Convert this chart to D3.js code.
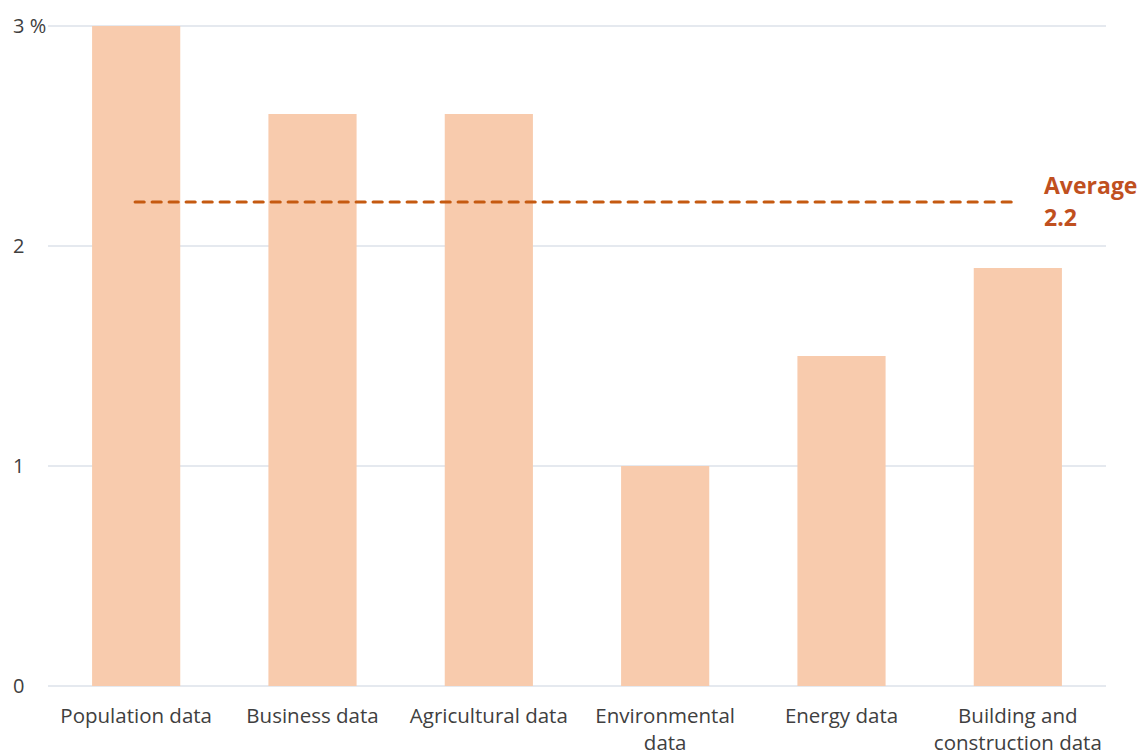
<!DOCTYPE html>
<html><head><meta charset="utf-8">
<script src="https://cdn.jsdelivr.net/npm/d3@7"></script>
<style>body{margin:0;background:#fff}svg{display:block}</style>
</head><body>
<svg id="c" width="1142" height="753"></svg>
<script>
const categories = ["Population data","Business data","Agricultural data","Environmental data","Energy data","Building and construction data"];
const labelLines = [["Population data"],["Business data"],["Agricultural data"],["Environmental","data"],["Energy data"],["Building and","construction data"]];
const values = [3.0, 2.6, 2.6, 1.0, 1.5, 1.9];
const averageValue = 2.2;
const yTicks = [0, 1, 2, 3];
const yTickLabels = ["0", "1", "2", "3 %"];

const svg = d3.select("#c");
const m = {l:48, r:36, t:26, b:67};
const W = 1142, H = 753;
const x = d3.scaleBand().domain(categories).range([m.l, W - m.r]).paddingInner(0.5).paddingOuter(0.25);
const y = d3.scaleLinear().domain([0, 3]).range([H - m.b, m.t]);

// gridlines
svg.append("g").selectAll("line").data(yTicks).join("line")
  .attr("x1", m.l).attr("x2", W - m.r)
  .attr("y1", d => y(d)).attr("y2", d => y(d))
  .attr("stroke", "#dde2ea").attr("stroke-width", 1.3);

// y labels
svg.append("g").selectAll("text").data(yTicks).join("text")
  .attr("x", 13).attr("y", d => y(d) + 7)
  .attr("font-family", "Open Sans, sans-serif").attr("font-size", 20)
  .attr("fill", "#404040")
  .text((d, i) => yTickLabels[i]);

// bars
svg.append("g").selectAll("rect").data(values).join("rect")
  .attr("x", (d, i) => x(categories[i]))
  .attr("width", x.bandwidth())
  .attr("y", d => y(d))
  .attr("height", d => y(0) - y(d))
  .attr("fill", "#f8cbad");

// x labels
const xl = svg.append("g").selectAll("text").data(labelLines).join("text")
  .attr("x", (d, i) => x(categories[i]) + x.bandwidth() / 2)
  .attr("y", y(0) + 37)
  .attr("text-anchor", "middle")
  .attr("font-family", "Open Sans, sans-serif").attr("font-size", 20.5)
  .attr("fill", "#404040");
xl.selectAll("tspan").data(d => d).join("tspan")
  .attr("x", function(){ return this.parentNode.getAttribute("x"); })
  .attr("dy", (d, i) => i === 0 ? 0 : 27)
  .text(d => d);

// average line
const x0 = x(categories[0]) + x.bandwidth() / 2 - 1;
const x1 = x(categories[categories.length - 1]) + x.bandwidth() / 2;
svg.append("line")
  .attr("x1", x0).attr("x2", x1)
  .attr("y1", y(averageValue)).attr("y2", y(averageValue))
  .attr("stroke", "#c55a11").attr("stroke-width", 3.2)
  .attr("stroke-dasharray", "9,8").attr("stroke-linecap", "round");

const at = svg.append("text")
  .attr("x", 1044).attr("y", y(averageValue) - 8)
  .attr("font-family", "Open Sans, sans-serif").attr("font-size", 23).attr("font-weight", "bold")
  .attr("fill", "#c0501f");
at.append("tspan").attr("x", 1044).text("Average");
at.append("tspan").attr("x", 1044).attr("dy", 32).text(averageValue.toFixed(1));
</script>
</body></html>
